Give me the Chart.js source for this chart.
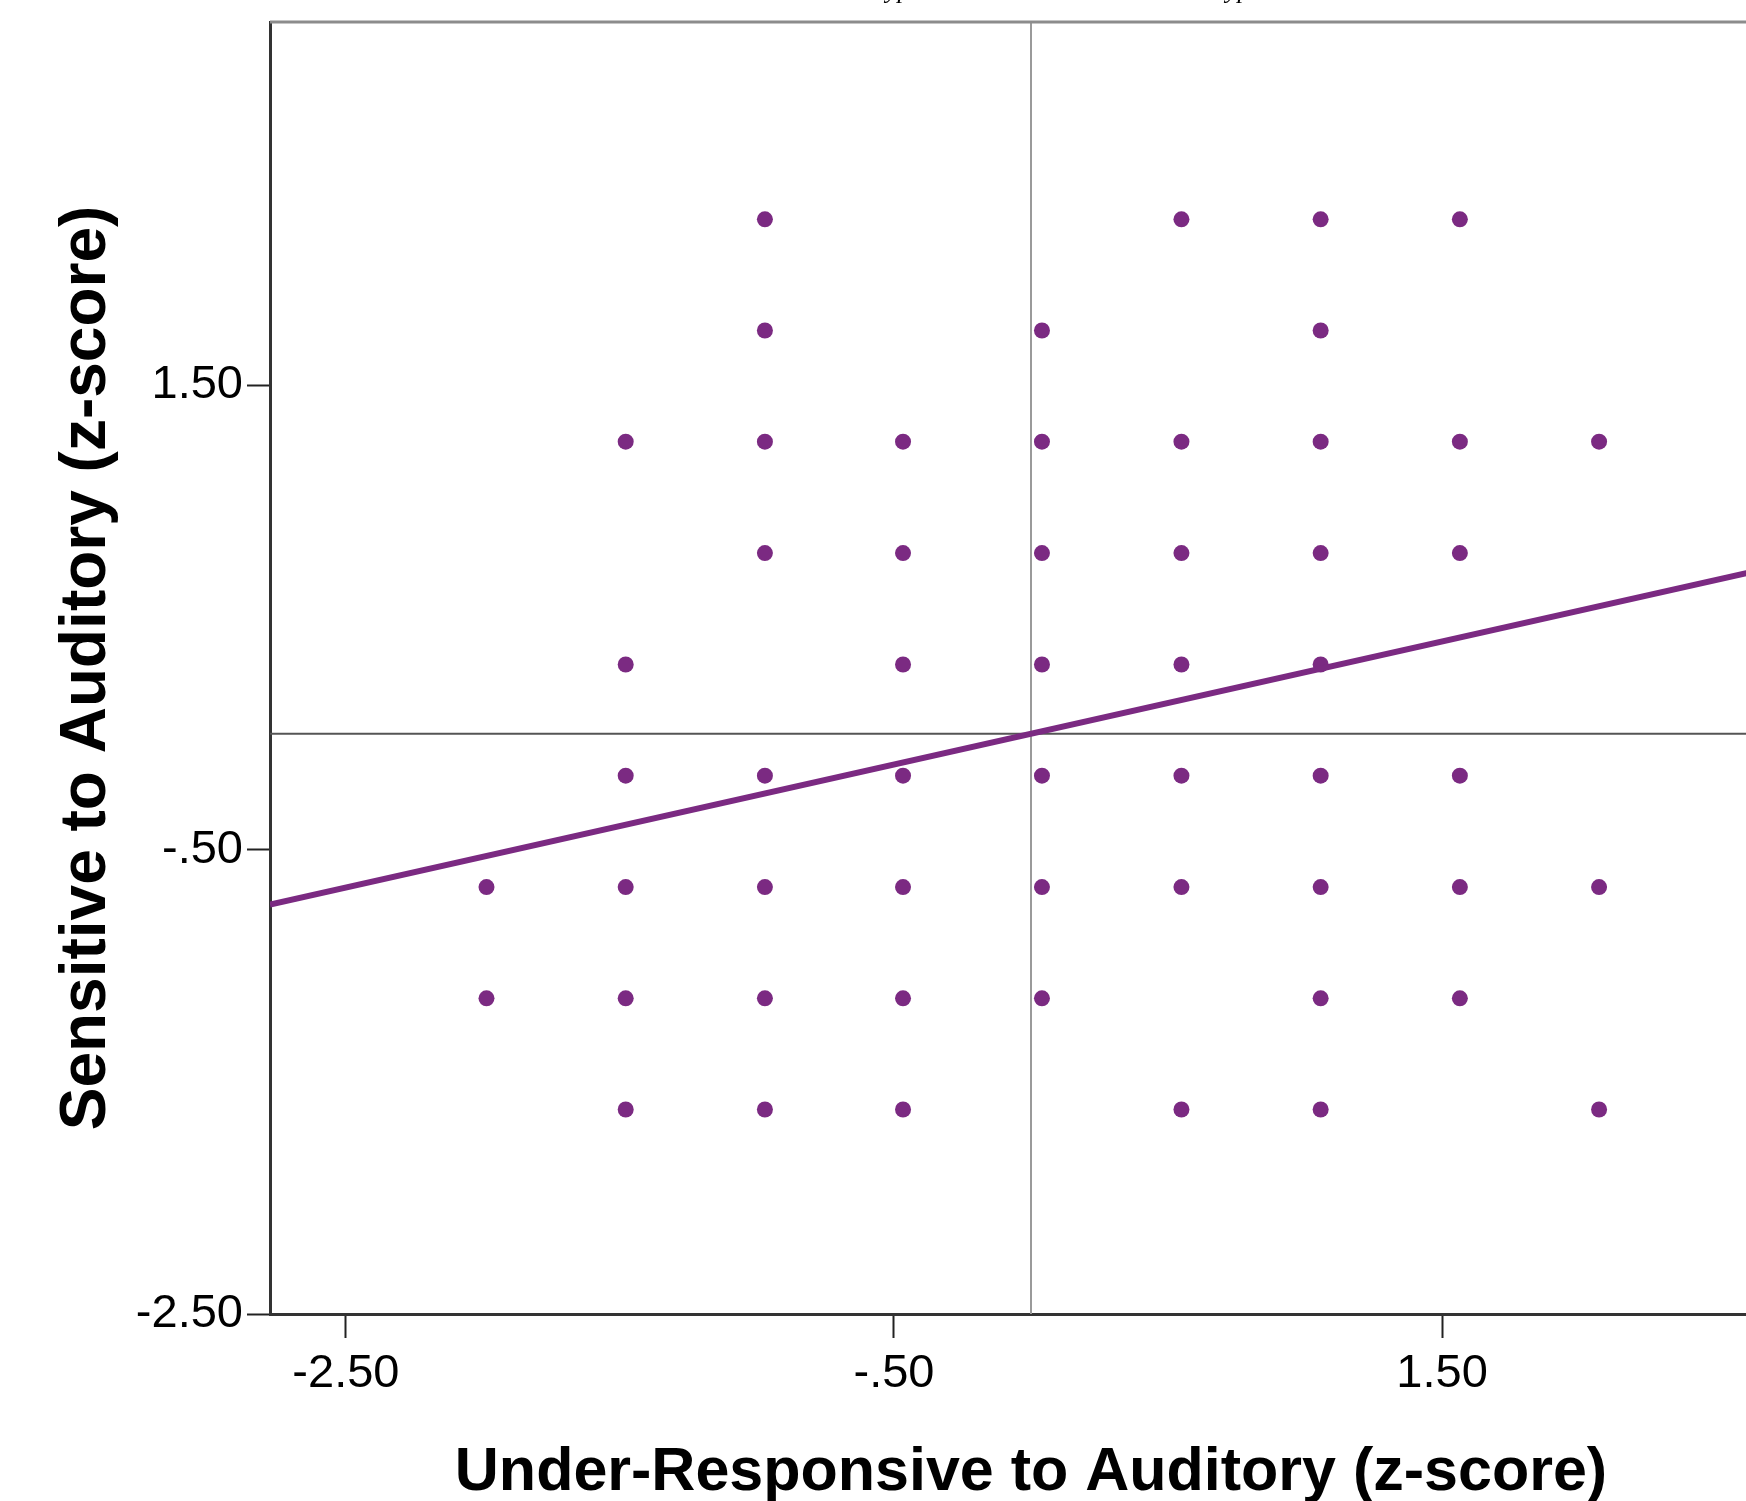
<!DOCTYPE html>
<html>
<head>
<meta charset="utf-8">
<title>Under-Responsive vs Sensitive to Auditory</title>
<script src="https://cdn.jsdelivr.net/npm/chart.js@4.4.1/dist/chart.umd.min.js"></script>
<style>
  html, body { margin: 0; padding: 0; background: #fff; overflow: hidden; }
  #plot { position: absolute; left: 0; top: 0; }
</style>
</head>
<body>
<canvas id="plot" width="1800" height="1501"></canvas>
<script>
// z-scores, one entry per plotted dot
const underResponsive = [
  -0.971, 0.549, 1.057, 1.565,
  -0.971, 0.040, 1.057,
  -1.479, -0.971, -0.467, 0.040, 0.549, 1.057, 1.565, 2.073,
  -0.971, -0.467, 0.040, 0.549, 1.057, 1.565,
  -1.479, -0.467, 0.040, 0.549, 1.057,
  -1.479, -0.971, -0.467, 0.040, 0.549, 1.057, 1.565,
  -1.987, -1.479, -0.971, -0.467, 0.040, 0.549, 1.057, 1.565, 2.073,
  -1.987, -1.479, -0.971, -0.467, 0.040, 1.057, 1.565,
  -1.479, -0.971, -0.467, 0.549, 1.057, 2.073
]
const sensitive = [
  2.216, 2.216, 2.216, 2.216,
  1.737, 1.737, 1.737,
  1.258, 1.258, 1.258, 1.258, 1.258, 1.258, 1.258, 1.258,
  0.778, 0.778, 0.778, 0.778, 0.778, 0.778,
  0.298, 0.298, 0.298, 0.298, 0.298,
  -0.181, -0.181, -0.181, -0.181, -0.181, -0.181, -0.181,
  -0.661, -0.661, -0.661, -0.661, -0.661, -0.661, -0.661, -0.661, -0.661,
  -1.140, -1.140, -1.140, -1.140, -1.140, -1.140, -1.140,
  -1.619, -1.619, -1.619, -1.619, -1.619, -1.619
]

// axis ranges and SPSS style tick labels
const xRange = [-2.777, 2.777]
const yRange = [-2.5, 3.066]
const xTickValues = [-2.5, -0.5, 1.5]
const xTickLabels = ['-2.50', '-.50', '1.50']
const yTickValues = [-2.5, -0.5, 1.5]
const yTickLabels = ['-2.50', '-.50', '1.50']

// reference lines at the means, and the fitted line
const meanX = 0
const meanY = 0
const fitSlope = 0.265
const fitIntercept = 0

const captionWords = ['Hyposensitive', 'Hypersensitive']

const purple = '#7b2a82'
const tickFont = { family: '"Liberation Sans", Arial, sans-serif', size: 47 }
const xTitleFont = { family: '"Liberation Sans", Arial, sans-serif', size: 61, weight: 'bold', lineHeight: 0.88 }
const yTitleFont = { family: '"Liberation Sans", Arial, sans-serif', size: 64, weight: 'bold', lineHeight: 1 }

const points = underResponsive.map((x, i) => ({ x: x, y: sensitive[i] }))
const fitLine = xRange.map(x => ({ x: x, y: fitIntercept + fitSlope * x }))

//top frame line plus the caption that is cut off by the top edge of the picture
const frameAndCaption = {
  id: 'frameAndCaption',
  afterDraw(chart) {
    const { ctx, chartArea } = chart
    ctx.save()
    ctx.strokeStyle = '#8c8c8c'
    ctx.lineWidth = 3
    ctx.beginPath()
    ctx.moveTo(chartArea.left, chartArea.top)
    ctx.lineTo(chartArea.right, chartArea.top)
    ctx.stroke()

    ctx.font = 'italic 26px "Liberation Serif", "DejaVu Serif", serif'
    ctx.fillStyle = '#000'
    ctx.textBaseline = 'alphabetic'
    const anchors = [886, 1226]
    captionWords.forEach((w, i) => {
      const hWidth = ctx.measureText('H').width
      ctx.fillText(w, anchors[i] - hWidth, -2)
    })
    ctx.restore()
  }
}

new Chart(document.getElementById('plot'), {
  type: 'scatter',
  data: {
    datasets: [
      {
        type: 'line',
        data: fitLine,
        borderColor: purple,
        borderWidth: 6,
        pointRadius: 0,
        order: 0
      },
      {
        data: points,
        backgroundColor: purple,
        borderWidth: 0,
        pointRadius: 8,
        order: 1
      },
      {
        type: 'line',
        data: [{ x: meanX, y: yRange[0] }, { x: meanX, y: yRange[1] }],
        borderColor: '#9a9a9a',
        borderWidth: 2,
        pointRadius: 0,
        order: 2
      },
      {
        type: 'line',
        data: [{ x: xRange[0], y: meanY }, { x: xRange[1], y: meanY }],
        borderColor: '#555555',
        borderWidth: 2,
        pointRadius: 0,
        order: 3
      }
    ]
  },
  options: {
    responsive: false,
    animation: false,
    devicePixelRatio: 1,
    layout: { padding: { top: 22, left: 0, right: 0, bottom: 0 } },
    plugins: { legend: { display: false }, tooltip: { enabled: false } },
    scales: {
      x: {
        type: 'linear',
        position: 'bottom',
        min: xRange[0],
        max: xRange[1],
        afterBuildTicks: scale => { scale.ticks = xTickValues.map(v => ({ value: v })) },
        afterFit: scale => {
          scale.height = 187
          scale.paddingLeft = 0
          scale.paddingRight = 0
        },
        ticks: {
          color: '#000',
          font: tickFont,
          padding: 8,
          maxRotation: 0,
          autoSkip: false,
          callback: (value, index) => xTickLabels[index]
        },
        grid: { drawOnChartArea: false, drawTicks: true, tickLength: 24, tickColor: '#222', tickWidth: 2 },
        border: { color: '#333', width: 3 },
        title: {
          display: true,
          text: 'Under-Responsive to Auditory (z-score)',
          color: '#000',
          font: xTitleFont,
          padding: { top: 0, bottom: 1 }
        }
      },
      y: {
        type: 'linear',
        min: yRange[0],
        max: yRange[1],
        afterBuildTicks: scale => { scale.ticks = yTickValues.map(v => ({ value: v })) },
        afterFit: scale => {
          scale.width = 270
          scale.paddingTop = 0
          scale.paddingBottom = 0
        },
        ticks: {
          color: '#000',
          font: tickFont,
          padding: 4,
          autoSkip: false,
          callback: (value, index) => yTickLabels[index]
        },
        grid: { drawOnChartArea: false, drawTicks: true, tickLength: 23, tickColor: '#222', tickWidth: 2 },
        border: { color: '#333', width: 3 },
        title: {
          display: true,
          text: 'Sensitive to Auditory (z-score)',
          color: '#000',
          font: yTitleFont,
          padding: { top: 55, bottom: 0 }
        }
      }
    }
  },
  plugins: [frameAndCaption]
})
</script>
</body>
</html>
